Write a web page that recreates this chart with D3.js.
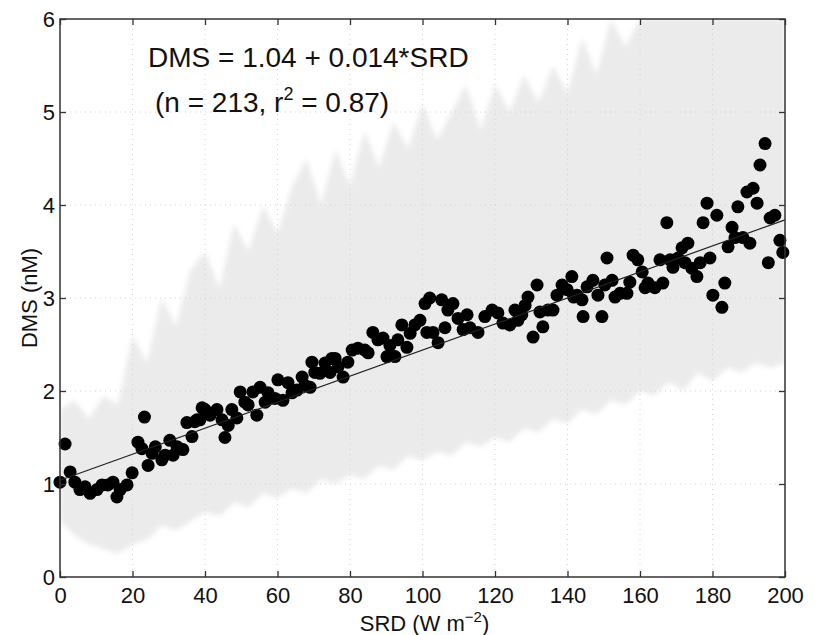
<!DOCTYPE html>
<html lang="en">
<head>
    <meta charset="UTF-8">
    <title>DMS vs SRD</title>
    <style>
        body { margin: 0; background: #fff; }
        text { font-family: "Liberation Sans", Arial, Helvetica, sans-serif; fill: #111; }
    </style>
</head>
<body>
<script src='https://d3js.org/d3.v7.min.js' type='text/javascript'></script>
<script>
    var width = 815, height = 635;

    // binned scatter (SRD, DMS)
    var srd = [0, 1.4, 2.8, 4.1, 5.5, 6.9, 8.3, 10.2, 11.6, 13.2, 14.6, 15.7, 16.6, 18.5, 19.9,
        21.5, 22.6, 23.3, 24.3, 25.4, 26.3, 28.1, 29, 30.3, 31.2, 32.3, 33.9, 35, 36.4, 37.2, 37.8, 38.6, 39.2,
        40, 41.4, 43.3, 44.7, 45.5, 46.4, 47.4, 48.8, 49.7, 51, 51.9, 53.2, 54.3, 55.2, 56.6, 57.4, 59.3,
        60.1, 61.5, 62.9, 64, 65.4, 66.8, 67.6, 69, 69.5, 70.3, 71.7, 73.1, 74.5, 75, 75.9, 76.7, 78.1, 79.4,
        80.6, 82.2, 84.1, 85, 86.3, 87.7, 89.1, 90.2, 91, 92.4, 93.2, 94.3, 95.7, 96.6, 97.9, 99.3,
        100.7, 101.2, 102, 102.9, 104.3, 105.3, 106.2, 107, 108.4, 109.8, 111.2, 112.3, 113.1, 115.3, 117.2, 119.2,
        120.8, 122.2, 124.1, 125.5, 126.3, 127.4, 128.3, 129.1, 130.5, 131.6, 132.4, 133.2, 134.6, 136, 137.1, 138.5, 139.9,
        141.2, 141.7, 142.6, 144, 144.3, 145.4, 147, 148.4, 149.5, 150.3, 150.9, 152.3, 153.1, 154.5, 156.4, 157.2, 158.1, 159.4,
        160.6, 161.4, 162.2, 164.1, 165.5, 166.3, 167.4, 168.3, 169.1, 170.5, 171.6, 172.4, 173.2, 174.3, 175.7, 176.6, 177.4, 178.5, 179.3,
        180.1, 181.2, 182.6, 183.4, 184.3, 185.4, 186.2, 187, 188.4, 189.5, 190.3, 191.2, 192.3, 193.1, 194.5, 195.4, 195.9, 197.2, 198.6, 199.4];
    var dms = [1.02, 1.43, 1.13, 1.02, 0.94, 0.97, 0.90, 0.94, 0.99, 0.99, 1.02, 0.86, 0.94, 0.99, 1.12,
        1.45, 1.38, 1.72, 1.20, 1.33, 1.40, 1.26, 1.31, 1.47, 1.31, 1.40, 1.37, 1.66, 1.51, 1.67, 1.69, 1.69, 1.82,
        1.80, 1.74, 1.80, 1.69, 1.50, 1.63, 1.80, 1.71, 1.99, 1.88, 1.85, 1.99, 1.74, 2.04, 1.88, 1.98, 1.92,
        2.12, 1.90, 2.09, 1.98, 2.01, 2.15, 2.06, 2.04, 2.31, 2.20, 2.19, 2.30, 2.20, 2.35, 2.35, 2.26, 2.15, 2.31,
        2.44, 2.46, 2.44, 2.41, 2.63, 2.55, 2.57, 2.37, 2.49, 2.37, 2.55, 2.71, 2.47, 2.62, 2.71, 2.76,
        2.94, 2.63, 3.00, 2.63, 2.52, 2.98, 2.68, 2.87, 2.94, 2.78, 2.66, 2.82, 2.68, 2.63, 2.80, 2.87,
        2.84, 2.73, 2.71, 2.87, 2.76, 2.82, 2.92, 3.01, 2.58, 3.14, 2.85, 2.69, 2.87, 2.87, 3.03, 3.14, 3.09,
        3.23, 3.01, 3.03, 2.98, 2.80, 3.12, 3.19, 3.03, 2.80, 3.14, 3.43, 3.19, 3.01, 3.05, 3.05, 3.17, 3.46, 3.41,
        3.28, 3.11, 3.16, 3.11, 3.41, 3.16, 3.81, 3.41, 3.33, 3.43, 3.54, 3.38, 3.59, 3.32, 3.23, 3.38, 3.81, 4.02, 3.43,
        3.03, 3.89, 2.90, 3.16, 3.55, 3.76, 3.65, 3.98, 3.65, 4.14, 3.59, 4.18, 4.02, 4.43, 4.66, 3.38, 3.86, 3.89, 3.62, 3.49];

    // grey spread behind the points
    var bandX = [0, 4, 8, 12, 16, 20, 24, 28, 32, 36, 40, 44, 48, 52, 56, 60, 64, 68, 72, 76, 80, 84, 88, 92, 96,
        100, 104, 108, 112, 116, 120, 124, 128, 132, 136, 140, 144, 148, 152, 156, 160, 164, 168, 172, 176, 180, 184, 188, 192, 196, 200];
    var bandHigh = [1.8, 1.9, 1.7, 1.95, 1.85, 2.6, 2.3, 3.0, 2.7, 3.3, 3.5, 3.1, 3.8, 3.5, 4.0, 3.7, 4.2, 4.5, 4.0, 4.6, 4.2, 4.8, 4.4, 4.9, 4.6,
        5.1, 4.7, 5.0, 5.3, 4.8, 5.3, 5.0, 5.4, 5.1, 5.5, 5.2, 5.8, 5.4, 6, 5.7, 6, 6, 6, 6, 6, 6, 6, 6, 6, 6, 6];
    var bandLow = [0.6, 0.45, 0.35, 0.3, 0.25, 0.35, 0.4, 0.55, 0.5, 0.6, 0.7, 0.65, 0.8, 0.75, 0.9, 0.85, 0.95, 0.9, 1.05, 1.0, 1.1, 1.05, 1.2, 1.15, 1.3,
        1.25, 1.35, 1.3, 1.45, 1.4, 1.5, 1.45, 1.6, 1.55, 1.7, 1.65, 1.8, 1.75, 1.9, 1.85, 2.0, 1.95, 2.1, 2.0, 2.2, 2.1, 2.25, 2.2, 2.3, 2.25, 2.3];

    var xTicks = [0, 20, 40, 60, 80, 100, 120, 140, 160, 180, 200];
    var yTicks = [0, 1, 2, 3, 4, 5, 6];
    var fitIntercept = 1.04, fitSlope = 0.014;
    var fitRange = [0, 200];

    var pLeft = 60, pRight = 785, pTop = 19, pBottom = 577;
    var x = d3.scaleLinear().domain([0, 200]).range([pLeft, pRight]);
    var y = d3.scaleLinear().domain([0, 6]).range([pBottom, pTop]);

    var svg = d3.select('body').append('svg').attr('width', width).attr('height', height);

    // soft edge for the band
    svg.append('defs').append('filter').attr('id', 'soft')
        .append('feGaussianBlur').attr('stdDeviation', 2.5);
    svg.append('clipPath').attr('id', 'plotclip').append('rect')
        .attr('x', pLeft).attr('y', pTop).attr('width', pRight - pLeft).attr('height', pBottom - pTop);

    // band
    var band = bandX.map(function (d, i) { return {x: d, lo: bandLow[i], hi: bandHigh[i]}; });
    svg.append('g').attr('clip-path', 'url(#plotclip)')
        .append('path')
        .datum(band)
        .attr('fill', '#ebebeb')
        .attr('filter', 'url(#soft)')
        .attr('d', d3.area()
            .x(function (d) { return x(d.x); })
            .y0(function (d) { return y(d.lo); })
            .y1(function (d) { return y(d.hi); }));

    // dotted grid (very faint)
    var grid = svg.append('g').attr('stroke', '#d4d4d4').attr('stroke-dasharray', '1,4');
    grid.selectAll('.gx').data(xTicks.slice(1, -1)).join('line')
        .attr('x1', function (d) { return x(d); }).attr('x2', function (d) { return x(d); })
        .attr('y1', pTop).attr('y2', pBottom);
    grid.selectAll('.gy').data(yTicks.slice(1, -1)).join('line')
        .attr('y1', function (d) { return y(d); }).attr('y2', function (d) { return y(d); })
        .attr('x1', pLeft).attr('x2', pRight);

    // points
    var pts = srd.map(function (d, i) { return {x: d, y: dms[i]}; });
    svg.append('g').selectAll('circle').data(pts).join('circle')
        .attr('cx', function (d) { return x(d.x); })
        .attr('cy', function (d) { return y(d.y); })
        .attr('r', 6.5)
        .attr('fill', '#000');

    // fit line
    svg.append('line')
        .attr('x1', x(fitRange[0])).attr('y1', y(fitIntercept + fitSlope * fitRange[0]))
        .attr('x2', x(fitRange[1])).attr('y2', y(fitIntercept + fitSlope * fitRange[1]))
        .attr('stroke', '#222').attr('stroke-width', 1.2);

    // axes (ticks inward, matlab style)
    function styleAxis(g) {
        g.select('.domain').remove();
        g.selectAll('.tick line').attr('stroke', '#333').attr('stroke-width', 1.3);
        g.selectAll('.tick text').attr('font-size', 22).attr('fill', '#111')
            .attr('font-family', '"Liberation Sans", Arial, Helvetica, sans-serif');
    }
    svg.append('g').attr('transform', 'translate(0,' + pBottom + ')')
        .call(d3.axisBottom(x).tickValues(xTicks).tickSize(-6).tickPadding(10).tickFormat(d3.format('d'))).call(styleAxis);
    svg.append('g').attr('transform', 'translate(0,' + pTop + ')')
        .call(d3.axisTop(x).tickValues(xTicks).tickSize(-6).tickFormat('')).call(styleAxis);
    svg.append('g').attr('transform', 'translate(' + pLeft + ',0)')
        .call(d3.axisLeft(y).tickValues(yTicks).tickSize(-6).tickPadding(5).tickFormat(d3.format('d'))).call(styleAxis);
    svg.append('g').attr('transform', 'translate(' + pRight + ',0)')
        .call(d3.axisRight(y).tickValues(yTicks).tickSize(-6).tickFormat('')).call(styleAxis);

    svg.append('rect')
        .attr('x', pLeft).attr('y', pTop).attr('width', pRight - pLeft).attr('height', pBottom - pTop)
        .attr('fill', 'none').attr('stroke', '#333').attr('stroke-width', 1.5);

    // labels
    var xl = svg.append('text').attr('x', (pLeft + pRight) / 2 + 2).attr('y', 631)
        .attr('text-anchor', 'middle').attr('font-size', 22);
    xl.append('tspan').text('SRD (W m');
    xl.append('tspan').attr('dy', -9).attr('font-size', 15).text('\u22122');
    xl.append('tspan').attr('dy', 9).text(')');

    svg.append('text').attr('transform', 'translate(37,' + ((pTop + pBottom) / 2) + ') rotate(-90)')
        .attr('text-anchor', 'middle').attr('font-size', 22).text('DMS (nM)');

    svg.append('text').attr('x', 148).attr('y', 67).attr('font-size', 28)
        .text('DMS = 1.04 + 0.014*SRD');
    var st = svg.append('text').attr('x', 155).attr('y', 112).attr('font-size', 28);
    st.append('tspan').text('(n = 213, r');
    st.append('tspan').attr('dy', -12).attr('font-size', 18).text('2');
    st.append('tspan').attr('dy', 12).text(' = 0.87)');
</script>
</body>
</html>
